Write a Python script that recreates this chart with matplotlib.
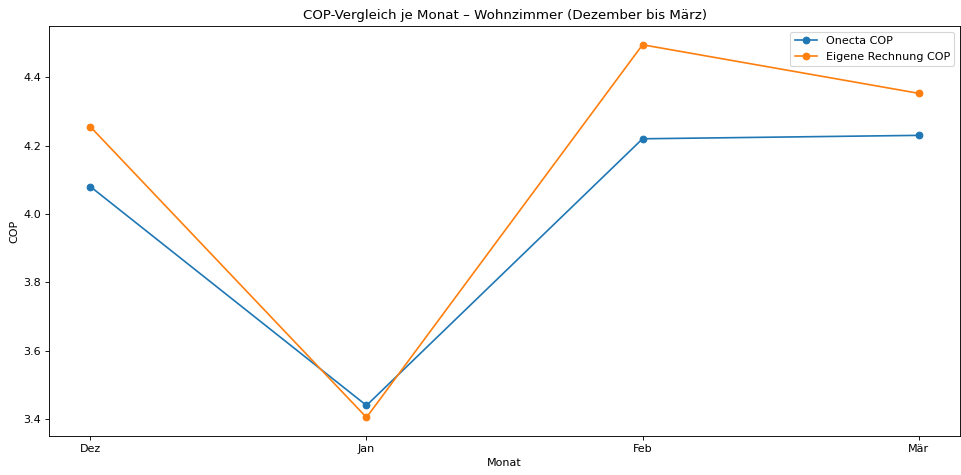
import matplotlib.pyplot as plt

# monthly COP values, living room
monate = ['Dez', 'Jan', 'Feb', 'Mär']
onecta_cop = [4.08, 3.44, 4.22, 4.23]
eigene_cop = [4.255, 3.405, 4.495, 4.353]

fig, ax = plt.subplots(figsize=(961 / 80, 475 / 80), dpi=80)

ax.plot(monate, onecta_cop, marker='o', label='Onecta COP')
ax.plot(monate, eigene_cop, marker='o', label='Eigene Rechnung COP')

ax.set_title('COP-Vergleich je Monat – Wohnzimmer (Dezember bis März)')
ax.set_xlabel('Monat')
ax.set_ylabel('COP')
ax.legend(loc='upper right')

plt.subplots_adjust(left=0.051, right=0.999, top=0.945, bottom=0.082)
plt.savefig('out.png', dpi=80)
